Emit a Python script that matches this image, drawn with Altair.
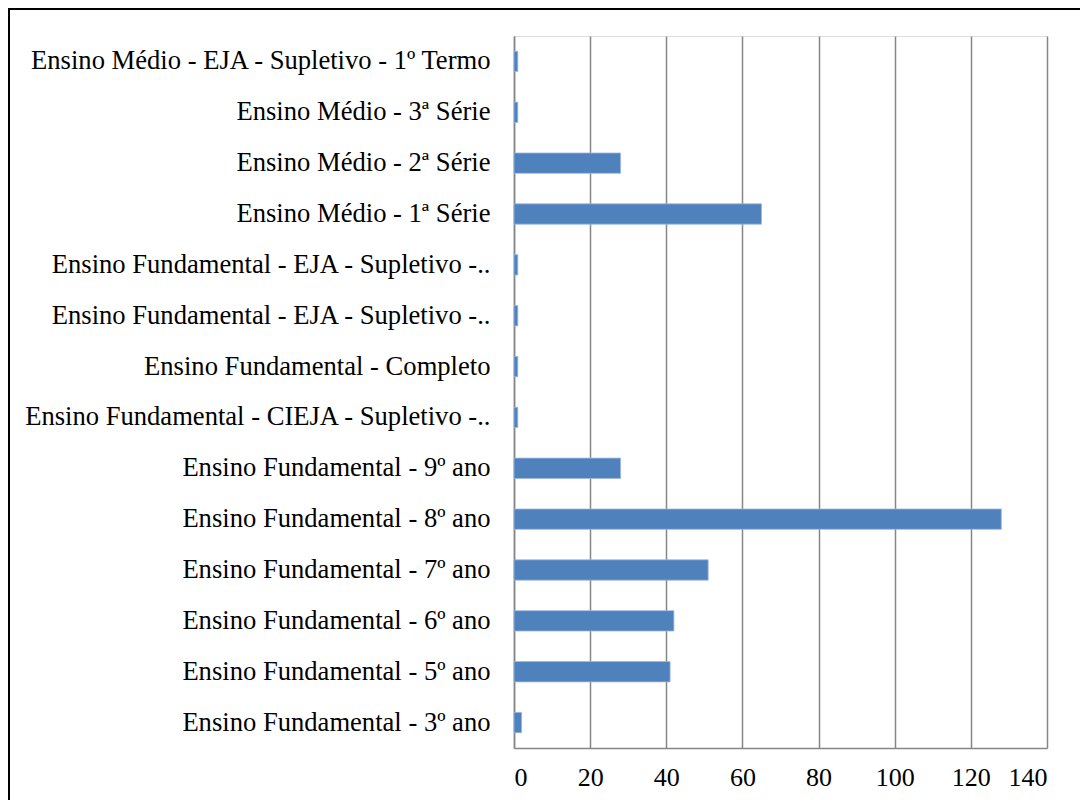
import altair as alt
import pandas as pd

categories = [
    "Ensino Médio - EJA - Supletivo - 1º Termo",
    "Ensino Médio - 3ª Série",
    "Ensino Médio - 2ª Série",
    "Ensino Médio - 1ª Série",
    "Ensino Fundamental - EJA - Supletivo -..",
    "Ensino Fundamental - EJA - Supletivo -..\u200b",
    "Ensino Fundamental - Completo",
    "Ensino Fundamental - CIEJA - Supletivo -..",
    "Ensino Fundamental - 9º ano",
    "Ensino Fundamental - 8º ano",
    "Ensino Fundamental - 7º ano",
    "Ensino Fundamental - 6º ano",
    "Ensino Fundamental - 5º ano",
    "Ensino Fundamental - 3º ano",
]
values = [1, 1, 28, 65, 1, 1, 1, 1, 28, 128, 51, 42, 41, 2]
x_ticks = [0, 20, 40, 60, 80, 100, 120, 140]

df = pd.DataFrame({"cat": categories, "val": values})

W, H = 533, 712
FONT = "Liberation Serif"

bars = alt.Chart(df).mark_bar(color="#4F81BD", stroke="#9DB9DC", strokeWidth=0.8).encode(
    x=alt.X("val:Q", scale=alt.Scale(domain=[0, 140], nice=False),
            axis=alt.Axis(values=x_ticks, title=None, grid=True, gridColor="#868686",
                          gridWidth=1.5, domainColor="#868686", domainWidth=1.5,
                          ticks=False, labelPadding=16, labelFont=FONT, labelFontSize=26,
                          labelColor="black")),
    y=alt.Y("cat:N", sort=categories,
            scale=alt.Scale(paddingInner=0.6, paddingOuter=0.3),
            axis=alt.Axis(title=None, ticks=False, domain=True, domainColor="#868686",
                          domainWidth=1.5, labelPadding=24, labelFont=FONT,
                          labelFontSize=26.6, labelColor="black", labelLimit=600)),
)

frame = pd.DataFrame({"a": [0]})
top_line = alt.Chart(frame).mark_rule(color="black", strokeWidth=2, clip=False).encode(
    x=alt.value(-506), x2=alt.value(W + 33), y=alt.value(-27)
)
left_line = alt.Chart(frame).mark_rule(color="black", strokeWidth=2, clip=False).encode(
    x=alt.value(-505), y=alt.value(-28), y2=alt.value(H + 52)
)

chart = alt.layer(bars, top_line, left_line).properties(
    width=W, height=H,
    autosize=alt.AutoSizeParams(type="none"),
    padding={"left": 506, "top": 28, "right": 33, "bottom": 52},
).configure_view(stroke=None).configure(background="white")

chart.save("out.html", embed_options={"renderer": "svg", "actions": False})
